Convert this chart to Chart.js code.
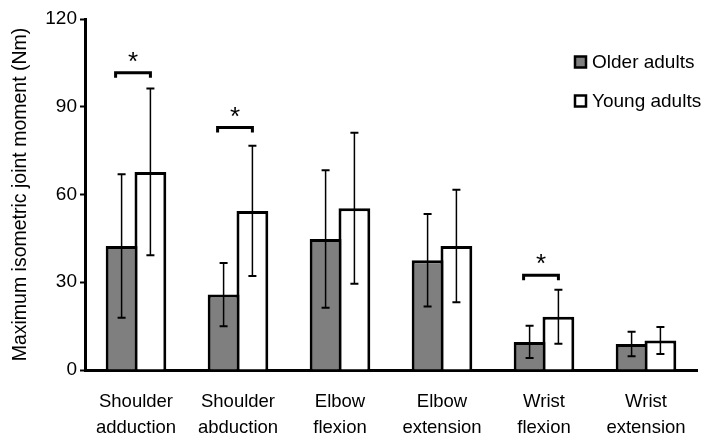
<!DOCTYPE html>
<html>
<head>
<meta charset="utf-8">
<script src="https://cdn.jsdelivr.net/npm/chart.js@4"></script>
<style>
  html, body { margin: 0; padding: 0; background: #fff; }
  #wrap { width: 714px; height: 448px; }
</style>
</head>
<body>
<div id="wrap"><canvas id="chart" width="714" height="448"></canvas></div>
<script>
// joints on the x axis
const categories = [
    ['Shoulder', 'adduction'],
    ['Shoulder', 'abduction'],
    ['Elbow', 'flexion'],
    ['Elbow', 'extension'],
    ['Wrist', 'flexion'],
    ['Wrist', 'extension']
];

// mean moments (Nm) and standard deviations
const olderMean = [42.4, 25.8, 44.8, 37.5, 9.6, 8.9];
const olderSD = [24.5, 10.8, 23.5, 15.8, 5.5, 4.2];
const youngMean = [67.7, 54.4, 55.3, 42.4, 18.2, 10.1];
const youngSD = [28.5, 22.3, 25.8, 19.2, 9.2, 4.6];

// significant differences: category index and bracket height (Nm)
const sigIndex = [0, 1, 4];
const sigLevel = [101.6, 82.9, 32.4];

const yTicks = [0, 30, 60, 90, 120];

const FONT = 'Liberation Sans, Arial, sans-serif';

// error bars, significance brackets and the legend
const overlayPlugin = {
    id: 'overlay',
    afterDatasetsDraw(chart) {
        const ctx = chart.ctx;
        const y = chart.scales.y;
        const sds = [olderSD, youngSD];

        ctx.save();
        ctx.strokeStyle = '#000';

        // error bars
        chart.data.datasets.forEach((ds, i) => {
            const meta = chart.getDatasetMeta(i);
            meta.data.forEach((bar, j) => {
                const top = y.getPixelForValue(ds.data[j] + sds[i][j]);
                const bot = y.getPixelForValue(ds.data[j] - sds[i][j]);
                ctx.lineWidth = 1.5;
                ctx.beginPath();
                ctx.moveTo(bar.x, top);
                ctx.lineTo(bar.x, bot);
                ctx.stroke();
                ctx.lineWidth = 2;
                ctx.beginPath();
                ctx.moveTo(bar.x - 4, top);
                ctx.lineTo(bar.x + 4, top);
                ctx.moveTo(bar.x - 4, bot);
                ctx.lineTo(bar.x + 4, bot);
                ctx.stroke();
            });
        });

        // brackets with asterisks
        const m0 = chart.getDatasetMeta(0).data;
        const m1 = chart.getDatasetMeta(1).data;
        sigIndex.forEach((k, n) => {
            const x1 = m0[k].x - 6;
            const x2 = m1[k].x;
            const py = y.getPixelForValue(sigLevel[n]);
            ctx.lineWidth = 3;
            ctx.beginPath();
            ctx.moveTo(x1, py + 5);
            ctx.lineTo(x1, py);
            ctx.lineTo(x2, py);
            ctx.lineTo(x2, py + 5);
            ctx.stroke();
            ctx.fillStyle = '#000';
            ctx.font = '26px ' + FONT;
            ctx.textAlign = 'center';
            ctx.textBaseline = 'middle';
            ctx.fillText('*', (x1 + x2) / 2, py - 10);
        });

        // legend
        ctx.font = '19px ' + FONT;
        ctx.textAlign = 'left';
        ctx.textBaseline = 'middle';
        chart.data.datasets.forEach((ds, i) => {
            const ly = 62 + i * 39;
            ctx.fillStyle = ds.backgroundColor;
            ctx.fillRect(575, ly - 5.5, 11, 11);
            ctx.lineWidth = 2.5;
            ctx.strokeRect(575, ly - 5.5, 11, 11);
            ctx.fillStyle = '#000';
            ctx.fillText(ds.label, 592, ly + 1);
        });
        ctx.restore();
    }
};

const ctx = document.getElementById('chart').getContext('2d');

new Chart(ctx, {
    type: 'bar',
    data: {
        labels: categories,
        datasets: [{
            label: 'Older adults',
            data: olderMean,
            backgroundColor: '#7f7f7f',
            borderColor: '#000',
            borderWidth: 3,
            borderSkipped: 'start'
        }, {
            label: 'Young adults',
            data: youngMean,
            backgroundColor: '#ffffff',
            borderColor: '#000',
            borderWidth: 3,
            borderSkipped: 'start'
        }]
    },
    options: {
        responsive: false,
        animation: false,
        layout: { padding: { top: 19, right: 17, left: 0, bottom: 0 } },
        categoryPercentage: 0.565,
        barPercentage: 1.104,
        plugins: {
            legend: { display: false },
            tooltip: { enabled: false }
        },
        scales: {
            x: {
                grid: { display: false, drawTicks: false },
                border: { color: '#000', width: 3 },
                ticks: {
                    color: '#000',
                    padding: 19,
                    maxRotation: 0,
                    autoSkip: false,
                    font: { family: FONT, size: 18.5, lineHeight: 1.4 }
                },
                afterFit: (s) => { s.height = 78; }
            },
            y: {
                min: 0,
                max: 120,
                afterBuildTicks: (s) => { s.ticks = yTicks.map(v => ({ value: v })); },
                grid: {
                    drawOnChartArea: false,
                    drawTicks: true,
                    tickLength: 5,
                    tickWidth: 2,
                    tickColor: '#000'
                },
                border: { color: '#000', width: 3 },
                ticks: {
                    color: '#000',
                    padding: 3,
                    font: { family: FONT, size: 19 }
                },
                title: {
                    display: true,
                    text: 'Maximum isometric joint moment (Nm)',
                    color: '#000',
                    padding: { top: 9, bottom: 0 },
                    font: { family: FONT, size: 19.5 }
                },
                afterFit: (s) => { s.width = 85; }
            }
        }
    },
    plugins: [overlayPlugin]
});
</script>
</body>
</html>
